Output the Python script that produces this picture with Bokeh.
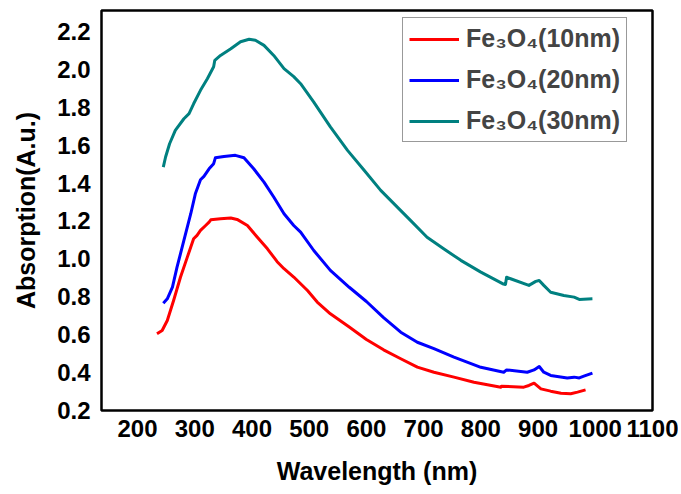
from bokeh.plotting import figure
from bokeh.models import Range1d, FixedTicker, Legend, LegendItem, NumeralTickFormatter
from bokeh.embed import file_html
from bokeh.resources import INLINE

# ---- data ----
wl_10 = [234, 243, 252, 263, 275, 287, 298, 304, 310, 319, 325, 328, 345, 363, 374, 392, 409, 427, 444,
         456, 473, 497, 514, 537, 570, 600, 630, 660, 689, 718, 753, 788, 835, 836, 875, 884, 893, 905,
         922, 940, 957, 969, 983]
abs_10 = [0.605, 0.622, 0.675, 0.780, 0.903, 1.009, 1.106, 1.124, 1.150, 1.176, 1.194, 1.206, 1.211, 1.215,
          1.208, 1.176, 1.115, 1.053, 0.985, 0.948, 0.904, 0.833, 0.772, 0.710, 0.640, 0.575, 0.520, 0.473,
          0.429, 0.402, 0.376, 0.349, 0.323, 0.328, 0.323, 0.332, 0.344, 0.314, 0.302, 0.291, 0.288, 0.297,
          0.309]

wl_20 = [245, 252, 261, 269, 281, 293, 301, 310, 316, 325, 333, 336, 351, 371, 386, 403, 421, 438, 456,
         473, 485, 508, 537, 570, 600, 630, 660, 689, 718, 753, 800, 840, 845, 881, 893, 902, 910, 922,
         951, 963, 972, 980, 995]
abs_20 = [0.766, 0.789, 0.851, 0.956, 1.097, 1.238, 1.343, 1.417, 1.435, 1.475, 1.502, 1.533, 1.540, 1.546,
          1.533, 1.475, 1.405, 1.326, 1.238, 1.176, 1.141, 1.044, 0.939, 0.850, 0.775, 0.690, 0.613, 0.560,
          0.526, 0.482, 0.428, 0.402, 0.414, 0.402, 0.414, 0.432, 0.402, 0.385, 0.372, 0.376, 0.372, 0.381,
          0.397]

wl_30 = [245, 249, 256, 266, 281, 290, 298, 310, 322, 333, 335, 345, 363, 380, 395, 406, 421, 438, 456,
         473, 485, 508, 537, 567, 596, 625, 654, 677, 706, 735, 765, 800, 838, 843, 845, 852, 884, 896,
         902, 910, 922, 945, 963, 972, 995]
abs_30 = [1.484, 1.537, 1.607, 1.678, 1.739, 1.766, 1.818, 1.889, 1.950, 2.013, 2.047, 2.073, 2.108, 2.145,
          2.158, 2.153, 2.126, 2.073, 2.003, 1.961, 1.924, 1.827, 1.696, 1.572, 1.467, 1.361, 1.273, 1.203,
          1.114, 1.053, 0.992, 0.930, 0.869, 0.865, 0.903, 0.895, 0.860, 0.881, 0.886, 0.860, 0.824, 0.807,
          0.798, 0.786, 0.789]

series_labels = ["Fe\u2083O\u2084(10nm)", "Fe\u2083O\u2084(20nm)", "Fe\u2083O\u2084(30nm)"]
series_colors = ["#FF0000", "#0000FF", "#008080"]

x_ticks = [200, 300, 400, 500, 600, 700, 800, 900, 1000, 1100]
y_ticks = [0.2, 0.4, 0.6, 0.8, 1.0, 1.2, 1.4, 1.6, 1.8, 2.0, 2.2]

FONT = "Liberation Sans"

p = figure(frame_width=551, frame_height=400,
           x_range=Range1d(137, 1100), y_range=Range1d(0.2, 2.31),
           output_backend="svg", toolbar_location=None,
           min_border_left=101, min_border_right=26, min_border_top=10, min_border_bottom=80)

p.background_fill_color = "white"
p.border_fill_color = "white"
p.outline_line_color = "black"
p.outline_line_width = 2.5
p.xgrid.visible = False
p.ygrid.visible = False

renderers = []
for wl, ab, c in zip([wl_10, wl_20, wl_30], [abs_10, abs_20, abs_30], series_colors):
    r = p.line(wl, ab, line_color=c, line_width=3, line_join="round")
    renderers.append(r)

for ax in (p.xaxis[0], p.yaxis[0]):
    ax.axis_line_color = None
    ax.major_tick_line_color = None
    ax.minor_tick_line_color = None
    ax.major_tick_out = 0
    ax.major_tick_in = 0
    ax.major_label_text_font = FONT
    ax.major_label_text_font_style = "bold"
    ax.major_label_text_font_size = "24px"
    ax.major_label_text_color = "black"
    ax.axis_label_text_font = FONT
    ax.axis_label_text_font_style = "bold"
    ax.axis_label_text_font_size = "25px"
    ax.axis_label_text_color = "black"

p.xaxis[0].ticker = FixedTicker(ticks=x_ticks)
p.yaxis[0].ticker = FixedTicker(ticks=y_ticks)
p.yaxis[0].formatter = NumeralTickFormatter(format="0.0")
p.xaxis[0].axis_label = "Wavelength (nm)"
p.yaxis[0].axis_label = "Absorption(A.u.)"
p.xaxis[0].major_label_standoff = 9
p.yaxis[0].major_label_standoff = 11
p.xaxis[0].axis_label_standoff = 17
p.yaxis[0].axis_label_standoff = 14

legend = Legend(items=[LegendItem(label=l, renderers=[r]) for l, r in zip(series_labels, renderers)],
                location=(301, 268), padding=6, spacing=12,
                glyph_width=50, glyph_height=28, label_height=28, label_standoff=7,
                label_text_font=FONT, label_text_font_style="bold", label_text_font_size="25px",
                border_line_color="#333333", border_line_width=1.5,
                background_fill_color="white", background_fill_alpha=1.0)
p.add_layout(legend)

open("out.html", "w").write(file_html(p, INLINE))
